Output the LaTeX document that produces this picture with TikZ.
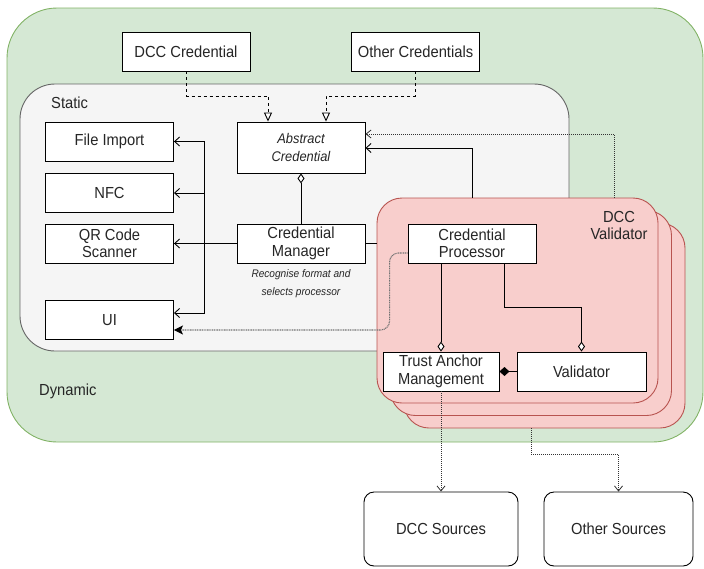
\documentclass[tikz,border=0pt]{standalone}
\usepackage{fontspec}
\setmainfont[FakeStretch=0.92]{Liberation Sans}
\usetikzlibrary{arrows.meta,calc}
\definecolor{txt}{HTML}{262626}
\definecolor{gfill}{HTML}{D5E8D4}
\definecolor{gline}{HTML}{82B366}
\definecolor{sfill}{HTML}{F5F5F5}
\definecolor{sline}{HTML}{666666}
\definecolor{rfill}{HTML}{F8CECC}
\definecolor{rline}{HTML}{B85450}
\newcommand\lblfont{\fontsize{16}{17.5}\selectfont}
\newcommand\absfont{\fontsize{14}{18}\selectfont\itshape}
\newcommand\notefont{\fontsize{11}{18}\selectfont\itshape}
\begin{document}
\begin{tikzpicture}[x=1pt,y=-1pt,
  box/.style={draw=black, line width=0.9pt, fill=white, minimum width=128pt,
    minimum height=39pt, inner sep=0pt, align=center, text=txt, font=\lblfont},
  src/.style={box, rounded corners=10pt, minimum height=74pt},
  cont/.style={line width=0.9pt, inner sep=0pt},
  redbox/.style={cont, draw=rline, fill=rfill, rounded corners=25pt,
    minimum width=281pt, minimum height=205pt},
  lbl/.style={text=txt, font=\lblfont, align=center, inner sep=0pt},
  plain/.style={line width=0.9pt, draw=black},
  conn/.style={plain, -{Straight Barb[length=5pt,width=9pt]}},
  dashconn/.style={plain, dash pattern=on 3pt off 3pt,
    -{Triangle[length=9pt,width=8pt,fill=white]}},
  dotconn/.style={line width=0.8pt, draw=black!80, dash pattern=on 1pt off 1pt,
    -{Straight Barb[length=5pt,width=8pt]}},
  dotfill/.style={line width=1.1pt, draw=black!55, dash pattern=on 1pt off 0.7pt,
    -{Stealth[length=9pt,width=9pt,inset=2pt,black]}},
  aggr/.style={plain, -{Diamond[length=10pt,width=7pt,fill=white]}},
  comp/.style={plain, -{Diamond[length=10pt,width=9pt]}}]
\useasboundingbox (0,0) rectangle (704,568);

% containers
\node[cont, draw=gline, fill=gfill, rounded corners=50pt,
  minimum width=696pt, minimum height=434pt] (dyn) at (355,225) {};
\node[cont, draw=sline, fill=sfill, rounded corners=35pt,
  minimum width=549pt, minimum height=267pt] (stat) at (294.5,217.5) {};
\node[redbox] (vback) at (544.5,325.5) {};
\node[redbox] (vmid) at (531,313) {};
\node[redbox] (vfront) at (517.5,300.5) {};

\node[lbl, anchor=west] (statlbl) at (51,103) {Static};
\node[lbl, anchor=west] (dynlbl) at (39,391) {Dynamic};
\node[lbl] (vlbl) at (619,225.5) {DCC\\Validator};

% components
\node[box] (dcc) at (186,51.5) {DCC Credential};
\node[box] (oth) at (415.5,51.5) {Other Credentials};
\node[box, minimum height=51pt, font=\absfont] (abs) at (301,147.5) {Abstract\\Credential};
\node[box] (fi) at (109.5,141.5) {File Import};
\node[box] (nfc) at (109.5,193) {NFC};
\node[box] (qr) at (109.5,243.5) {QR Code\\Scanner};
\node[box] (ui) at (109.5,320) {UI};
\node[box] (mgr) at (301,243.5) {Credential\\Manager};
\node[lbl, font=\notefont] (rec) at (301,284) {Recognise format and\\selects processor};
\node[box] (proc) at (472,243.5) {Credential\\Processor};
\node[box, minimum width=116pt] (tam) at (441,371.5) {Trust Anchor\\Management};
\node[box, minimum width=129pt] (val) at (581.5,371.5) {Validator};
\node[src, minimum width=154pt] (dsrc) at (441,529) {DCC Sources};
\node[src, minimum width=149pt] (osrc) at (618.5,529) {Other Sources};

% inheritance
\draw[dashconn] (dcc.south) -- ++(0,24.5) -| ($(abs.north)+(-33,0)$);
\draw[dashconn] (oth.south) -- ++(0,24.5) -| ($(abs.north)+(25,0)$);

% credential manager to inputs
\draw[conn] (mgr.west) -- (qr.east);
\draw[conn] (mgr.west) -- ++(-32,0) |- (fi.east);
\draw[conn] (mgr.west) -- ++(-32,0) |- (nfc.east);
\draw[conn] (mgr.west) -- ++(-32,0) |- ($(ui.east)+(0,-7)$);
\draw[aggr] (mgr.north) -- (abs.south);
\draw[plain] (mgr.east) -- (mgr.east -| vfront.west);

% validator to abstract credential
\draw[conn] (proc.north |- vfront.north) |- ($(abs.east)+(0,0.5)$);
\draw[dotconn] ($(vfront.north)+(96.5,0)$) |- ($(abs.east)+(0,-13.5)$);

% processor to UI
\draw[dotfill, rounded corners=9pt] ($(proc.west)+(0,9.5)$) -- ++(-18,0) |- ($(ui.east)+(0,10)$);

% inside the validator
\draw[aggr] (tam.north |- proc.south) -- (tam.north);
\draw[aggr] ($(proc.south)+(32,0)$) -- ++(0,44) -| (val.north);
\draw[comp] (val.west) -- (tam.east);

% sources
\draw[dotconn] (tam.south) -- (dsrc.north);
\draw[dotconn] (vmid.south |- vback.south) -- ++(0,26) -| (osrc.north);
\end{tikzpicture}
\end{document}
